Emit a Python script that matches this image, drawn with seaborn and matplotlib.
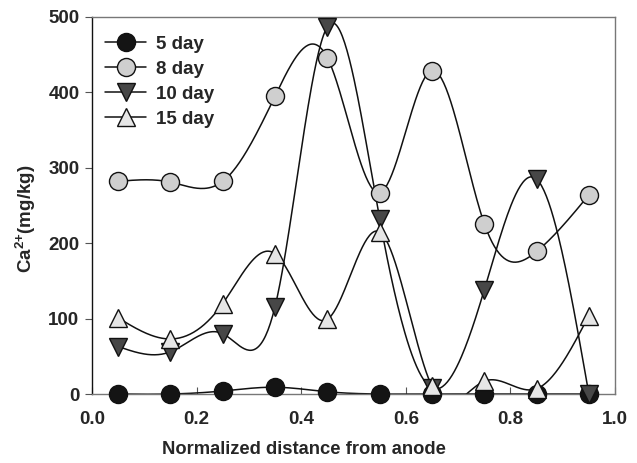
import numpy as np
import pandas as pd
import seaborn as sns
import matplotlib
matplotlib.use("Agg")
import matplotlib.pyplot as plt

distance = [0.05, 0.15, 0.25, 0.35, 0.45, 0.55, 0.65, 0.75, 0.85, 0.95]
ca_5day = [0, 0, 4, 9, 3, 0, 0, 0, 0, 0]
ca_8day = [282, 281, 282, 395, 446, 267, 429, 226, 189, 264]
ca_10day = [63, 56, 80, 116, 487, 232, 8, 138, 285, 0]
ca_15day = [101, 73, 120, 186, 99, 215, 10, 17, 7, 104]

series = {"5 day": ca_5day, "8 day": ca_8day, "10 day": ca_10day, "15 day": ca_15day}
styles = {
    "5 day": dict(marker="o", color="#141414"),
    "8 day": dict(marker="o", color="#cfcfcf"),
    "10 day": dict(marker="v", color="#474747"),
    "15 day": dict(marker="^", color="#e6e6e6"),
}


def natural_spline(x, y, n=400):
    # natural cubic spline, like the smooth curves of the original plot
    x = np.asarray(x, float)
    y = np.asarray(y, float)
    k = len(x)
    h = np.diff(x)
    A = np.zeros((k, k))
    b = np.zeros(k)
    A[0, 0] = A[-1, -1] = 1
    for i in range(1, k - 1):
        A[i, i - 1] = h[i - 1]
        A[i, i] = 2 * (h[i - 1] + h[i])
        A[i, i + 1] = h[i]
        b[i] = 3 * ((y[i + 1] - y[i]) / h[i] - (y[i] - y[i - 1]) / h[i - 1])
    c = np.linalg.solve(A, b)
    xs = np.linspace(x[0], x[-1], n)
    idx = np.clip(np.searchsorted(x, xs) - 1, 0, k - 2)
    dx = xs - x[idx]
    hi = h[idx]
    bb = (y[idx + 1] - y[idx]) / hi - hi * (2 * c[idx] + c[idx + 1]) / 3
    dd = (c[idx + 1] - c[idx]) / (3 * hi)
    ys = y[idx] + bb * dx + c[idx] * dx ** 2 + dd * dx ** 3
    return xs, ys


sns.set_style("ticks")
plt.rcParams["font.family"] = ["Liberation Sans", "DejaVu Sans"]
plt.rcParams["font.weight"] = "bold"
plt.rcParams["mathtext.fontset"] = "custom"
plt.rcParams["mathtext.rm"] = "Liberation Sans:bold"
plt.rcParams["mathtext.bf"] = "Liberation Sans:bold"

fig = plt.figure(figsize=(6.37, 4.63), dpi=100)
ax = fig.add_axes([0.1444, 0.149, 0.8211, 0.8143])

for name, vals in series.items():
    xs, ys = natural_spline(distance, vals)
    sns.lineplot(x=xs, y=ys, ax=ax, color="#111111", linewidth=1.1,
                 sort=False, estimator=None, zorder=2)

for name, vals in series.items():
    st = styles[name]
    ax.plot(distance, vals, linestyle="none", marker=st["marker"],
            markersize=13, markerfacecolor=st["color"],
            markeredgecolor="#111111", markeredgewidth=1.0,
            clip_on=False, zorder=3)

# legend proxies with line through marker
handles = []
for name in series:
    st = styles[name]
    h, = ax.plot([], [], color="#111111", linewidth=1.1, marker=st["marker"],
                 markersize=13, markerfacecolor=st["color"],
                 markeredgecolor="#111111", markeredgewidth=1.0, label=name)
    handles.append(h)
ax.legend(handles=handles, loc="upper left", frameon=False, fontsize=13.5,
          handlelength=2.2, handletextpad=0.5, labelspacing=0.42,
          borderaxespad=0.3, bbox_to_anchor=(0.0, 0.985))

ax.set_xlim(0, 1)
ax.set_ylim(0, 500)
ax.set_xticks([0.0, 0.2, 0.4, 0.6, 0.8, 1.0])
ax.set_yticks([0, 100, 200, 300, 400, 500])
ax.set_xticklabels(["0.0", "0.2", "0.4", "0.6", "0.8", "1.0"])
ax.tick_params(axis="x", direction="in", length=5, width=0.8, color="#555555",
               labelsize=13.5, pad=12)
ax.tick_params(axis="y", direction="out", length=5, width=0.8, color="#555555",
               labelsize=13.5, pad=4)

for side in ["top", "right", "bottom"]:
    ax.spines[side].set_color("#777777")
    ax.spines[side].set_linewidth(1.0)
ax.spines["left"].set_color("#111111")
ax.spines["left"].set_linewidth(1.0)

ax.set_xlabel("Normalized distance from anode", fontsize=13.2, fontweight="bold")
ax.set_ylabel("Ca$^{2{+}}$(mg/kg)", fontsize=13.5, fontweight="bold")
ax.xaxis.set_label_coords(0.406, -0.125)
ax.yaxis.set_label_coords(-0.103, 0.464)

fig.savefig("out.png", dpi=100)
